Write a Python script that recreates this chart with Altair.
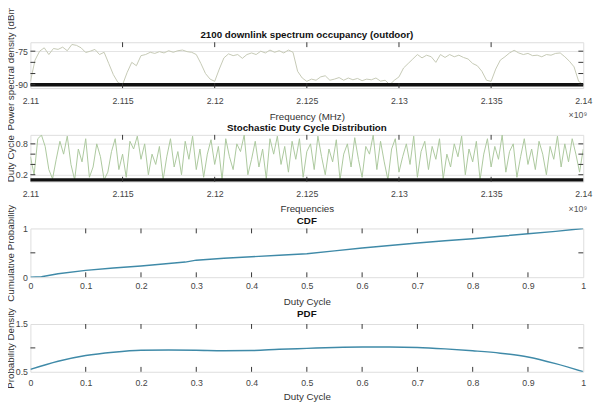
import altair as alt
import pandas as pd

FONT = "Liberation Sans"

# ---------------- Panel 1: spectrum occupancy ----------------
psd_start = 2.11
psd_step = 0.00025
psd_dbm = [
    -88.5, -79.0, -75.0, -73.5, -76.5, -73.8, -74.2, -73.2, -74.8, -72.0,
    -72.4, -73.5, -75.6, -75.0, -74.2, -76.5, -75.5, -80.5, -85.5, -89.0,
    -90.0, -84.5, -80.0, -81.5, -77.0, -76.5, -75.5, -76.0, -75.2, -75.8,
    -74.8, -75.5, -74.8, -74.5, -75.2, -75.5, -76.5, -80.5, -85.0, -87.5,
    -88.5, -83.0, -78.0, -76.2, -77.0, -76.5, -78.2, -76.5, -75.8, -76.5,
    -75.0, -75.8, -74.5, -75.5, -74.8, -75.8, -74.5, -75.5, -84.0, -87.0,
    -88.5, -87.5, -88.0, -86.5, -86.0, -88.0, -87.5, -86.8, -88.0, -87.0,
    -87.8, -87.2, -88.2, -87.5, -87.8, -87.0, -88.4, -88.0, -90.0, -88.0,
    -86.5, -82.5, -80.5, -78.5, -76.5, -78.0, -76.8, -77.5, -80.0, -76.5,
    -77.8, -76.5, -77.5, -76.8, -77.8, -78.5, -80.5, -81.5, -84.0, -88.0,
    -88.5, -83.0, -79.0, -77.5, -75.8, -74.6, -75.8, -76.5, -76.0, -77.0,
    -76.8, -77.5, -76.5, -76.8, -76.0, -75.8, -77.5, -79.5, -82.0, -88.5,
    -90.0,
]
psd_freq = [psd_start + i * psd_step for i in range(len(psd_dbm))]
psd_threshold = -90

# ---------------- Panel 2: duty cycle ----------------
duty = [
    0.55, 0.20, 0.90, 0.97, 0.75, 0.30, 0.12, 0.50, 0.85, 0.60,
    0.95, 0.40, 0.10, 0.70, 0.45, 0.90, 0.15, 0.35, 0.80, 0.55,
    0.10, 0.25, 0.65, 0.90, 0.30, 0.60, 0.15, 0.85, 0.70, 0.95,
    0.50, 0.80, 0.20, 0.60, 0.40, 0.75, 0.10, 0.55, 0.90, 0.35,
    0.65, 0.20, 0.85, 0.50, 0.95, 0.30, 0.70, 0.15, 0.60, 0.88,
    0.40, 0.75, 0.10, 0.90, 0.55, 0.30, 0.80, 0.65, 0.97, 0.20,
    0.50, 0.85, 0.35, 0.70, 0.12, 0.90, 0.60, 0.95, 0.40, 0.75,
    0.25, 0.85, 0.50, 0.90, 0.15, 0.65, 0.80, 0.30, 0.95, 0.55,
    0.20, 0.70, 0.45, 0.88, 0.10, 0.60, 0.80, 0.35, 0.92, 0.50,
    0.15, 0.75, 0.60, 0.97, 0.30, 0.85, 0.45, 0.10, 0.70, 0.90,
    0.25, 0.55, 0.80, 0.40, 0.95, 0.15, 0.65, 0.85, 0.30, 0.75,
    0.50, 0.90, 0.12, 0.60, 0.35, 0.80, 0.55, 0.95, 0.20, 0.70,
    0.45, 0.85, 0.10, 0.60, 0.90, 0.35, 0.75, 0.50, 0.97, 0.25,
    0.65, 0.80, 0.15, 0.55, 0.90, 0.40, 0.70, 0.30, 0.85, 0.60,
    0.20, 0.75, 0.50, 0.95, 0.35, 0.80, 0.45, 0.90, 0.60, 0.25,
    0.70,
]
duty_freq = [2.11 + i * 0.03 / (len(duty) - 1) for i in range(len(duty))]
duty_threshold = 0.1

# ---------------- Panel 3: CDF ----------------
cdf_x = [0, 0.02, 0.05, 0.1, 0.15, 0.2, 0.25, 0.28, 0.3, 0.35, 0.4, 0.45,
         0.5, 0.55, 0.6, 0.65, 0.7, 0.75, 0.8, 0.85, 0.9, 0.95, 1.0]
cdf_y = [0, 0.01, 0.07, 0.14, 0.19, 0.23, 0.28, 0.31, 0.35, 0.39, 0.42, 0.45,
         0.48, 0.54, 0.60, 0.65, 0.70, 0.75, 0.79, 0.84, 0.89, 0.94, 1.0]

# ---------------- Panel 4: PDF ----------------
pdf_x = [0, 0.05, 0.1, 0.15, 0.2, 0.25, 0.3, 0.35, 0.4, 0.45, 0.5,
         0.55, 0.6, 0.65, 0.7, 0.75, 0.8, 0.85, 0.9, 0.95, 1.0]
pdf_y = [0.55, 0.72, 0.84, 0.91, 0.95, 0.955, 0.95, 0.94, 0.945, 0.97, 0.99,
         1.01, 1.02, 1.02, 1.01, 0.98, 0.94, 0.89, 0.81, 0.67, 0.50]

freq_ticks = [2.11, 2.115, 2.12, 2.125, 2.13, 2.135, 2.14]
dc_ticks = [0, 0.1, 0.2, 0.3, 0.4, 0.5, 0.6, 0.7, 0.8, 0.9, 1.0]

W = 567
TICK = 5
TICKC = "#333333"

COMMON_AXIS = dict(ticks=False, domain=False, labelFontSize=9,
                   labelColor="#444444", labelOverlap=False, labelFlush=False,
                   labelFont=FONT, titleFont=FONT, titleFontSize=10,
                   titleFontWeight="normal", titleColor="#333333",
                   gridColor="#e3e3e3")


def panel(df, xdom, ydom, xticks, yticks, xfmt, ylabel_expr, h, color, sw,
          title, title_y, xtitle, ytitle, grid, lp, tp, thresh=None,
          x10=False, ytitle_y=None, interp="linear"):
    xs = alt.Scale(domain=xdom, nice=False, zero=False)
    ys = alt.Scale(domain=ydom, nice=False, zero=False)
    xaxis = alt.Axis(values=xticks, format=xfmt, grid=False,
                     labelPadding=lp, title=xtitle, titlePadding=tp,
                     **COMMON_AXIS)
    yargs = dict(values=yticks, grid=grid, labelPadding=3, title=ytitle,
                 titleX=-15, labelExpr=ylabel_expr, **COMMON_AXIS)
    if ytitle_y is not None:
        yargs["titleY"] = ytitle_y
        yargs["titleAlign"] = "left"
    yaxis = alt.Axis(**yargs)

    line = alt.Chart(df).mark_line(color=color, strokeWidth=sw, clip=True,
                                   interpolate=interp).encode(
        x=alt.X("f:Q", scale=xs, axis=xaxis),
        y=alt.Y("v:Q", scale=ys, axis=yaxis),
    )
    layers = [line]
    if thresh is not None:
        layers.append(
            alt.Chart(pd.DataFrame({"v": [thresh]})).mark_rule(
                color="#111111", strokeWidth=3.5).encode(
                y=alt.Y("v:Q", scale=ys))
        )
    xin = pd.DataFrame({"f": xticks[1:-1]})
    yin = pd.DataFrame({"v": [t for t in yticks if ydom[0] < t < ydom[1]]})
    layers.append(alt.Chart(xin).mark_rule(color=TICKC, strokeWidth=1).encode(
        x=alt.X("f:Q", scale=xs), y=alt.value(0), y2=alt.value(TICK)))
    layers.append(alt.Chart(xin).mark_rule(color=TICKC, strokeWidth=1).encode(
        x=alt.X("f:Q", scale=xs), y=alt.value(h), y2=alt.value(h - TICK)))
    layers.append(alt.Chart(yin).mark_rule(color=TICKC, strokeWidth=1).encode(
        y=alt.Y("v:Q", scale=ys), x=alt.value(0), x2=alt.value(TICK)))
    layers.append(alt.Chart(yin).mark_rule(color=TICKC, strokeWidth=1).encode(
        y=alt.Y("v:Q", scale=ys), x=alt.value(W), x2=alt.value(W - TICK)))
    # panel title as a text mark just above the plot frame
    layers.append(alt.Chart(pd.DataFrame({"s": [title]})).mark_text(
        align="center", baseline="middle", fontSize=10, fontWeight="bold",
        color="#111111", font=FONT).encode(
        text="s:N", x=alt.value(W / 2), y=alt.value(title_y)))
    if x10:
        layers.append(alt.Chart(pd.DataFrame({"s": ["\u00d710\u2079"]})).mark_text(
            align="right", baseline="middle", fontSize=9, color="#555555",
            font=FONT).encode(text="s:N", x=alt.value(W + 4), y=alt.value(h + 28)))
    return alt.layer(*layers).properties(width=W, height=h)


p1 = panel(pd.DataFrame({"f": psd_freq, "v": psd_dbm}), [2.11, 2.14],
           [-91.5, -71], freq_ticks, [-90, -85, -80, -75], ".4~f",
           "'' + datum.value", 47, "#c4c8b4", 1,
           "2100 downlink spectrum occupancy (outdoor)", -7,
           "Frequency (MHz)", "Power spectral density (dBm)", True, 9, 6,
           thresh=psd_threshold, x10=True, ytitle_y=90)
p2 = panel(pd.DataFrame({"f": duty_freq, "v": duty}), [2.11, 2.14],
           [0.065, 0.975], freq_ticks, [0.2, 0.4, 0.6, 0.8], ".4~f",
           "format(datum.value, '.1f')", 48, "#abc79c", 1,
           "Stochastic Duty Cycle Distribution", -7,
           "Frequencies", "Duty Cycle", True, 8, 6,
           thresh=duty_threshold, x10=True)
p3 = panel(pd.DataFrame({"f": cdf_x, "v": cdf_y}), [0, 1], [0, 1],
           dc_ticks, [0, 0.5, 1], "~g", "format(datum.value, '~g')", 50,
           "#3f8aa8", 1.5, "CDF", -8, "Duty Cycle", "Cumulative Probability",
           False, 5, 6)
p4 = panel(pd.DataFrame({"f": pdf_x, "v": pdf_y}), [0, 1], [0.5, 1.5],
           dc_ticks, [0.5, 1, 1.5], "~g", "format(datum.value, '~g')", 49,
           "#3f8aa8", 1.5, "PDF", -10, "Duty Cycle", "Probability Density",
           False, 7, 4, interp="monotone")

chart = alt.vconcat(p1, p2, p3, p4, spacing=48, bounds="flush").properties(
    padding={"left": -3, "top": -12, "right": 0, "bottom": 0}
).configure_view(stroke="#333333", strokeWidth=1).configure_axis(
    labelOverlap=False, labelFlush=False
).configure(background="white")

chart.save("out.html", embed_options={"renderer": "svg", "actions": False})
